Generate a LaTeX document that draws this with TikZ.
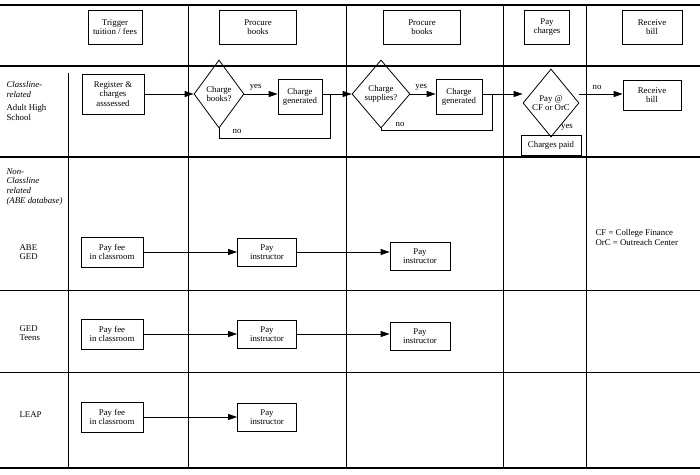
\documentclass[tikz,border=0pt]{standalone}
\usepackage{fontspec}
\setmainfont{Liberation Serif}
\usetikzlibrary{shapes.geometric,arrows.meta}
\begin{document}
\begin{tikzpicture}[x=1pt,y=-1pt,font=\fontsize{8.8}{9.6}\selectfont,
  box/.style={draw,align=center,inner sep=2pt,line width=0.8pt},
  dia/.style={draw,diamond,aspect=0.75,align=center,inner sep=-3pt,line width=0.8pt},
  flow/.style={line width=0.8pt,-{Triangle[length=9pt,width=6pt]}},
  grid/.style={line width=0.6pt}]
\useasboundingbox (0,0) rectangle (700,474);

%Lanes
\draw [line width=1.6pt] (0,5) -- (700,5);
\draw [line width=1.6pt] (0,66) -- (700,66);
\draw [line width=1.6pt] (0,157) -- (700,157);
\draw [grid] (0,290) -- (700,290);
\draw [grid] (0,372) -- (700,372);
\draw [line width=1.2pt] (0,468) -- (700,468);
\draw [grid] (68,73) -- (68,468);
\foreach \x in {188,346,503,586}
  \draw [grid] (\x,5) -- (\x,468);

%Header boxes
\node [box,minimum width=54pt,minimum height=34pt] (trig) at (115,27) {Trigger\\tuition / fees};
\node [box,minimum width=77pt,minimum height=34pt] (proc1) at (258,27) {Procure\\books};
\node [box,minimum width=77pt,minimum height=34pt] (proc2) at (422,27) {Procure\\books};
\node [box,minimum width=45pt,minimum height=34pt] (paych) at (547,27) {Pay\\charges};
\node [box,minimum width=60pt,minimum height=34pt] (recv) at (652,27) {Receive\\bill};

%Row labels
\node [anchor=north west,align=left,font=\fontsize{8.8}{9.6}\selectfont\itshape] (cls) at (3,78) {Classline-\\related};
\node [anchor=north west,align=left] (ahs) at (3,101) {Adult High\\School};
\node [anchor=north west,align=left,font=\fontsize{8.8}{9.6}\selectfont\itshape] (ncls) at (3,165) {Non-\\Classline\\related\\(ABE database)};
\node [anchor=north west,align=left] (abe) at (16,241) {ABE\\GED};
\node [anchor=north west,align=left] (gedt) at (16,322) {GED\\Teens};
\node [anchor=north west] (leap) at (16,408) {LEAP};
\node [anchor=north west,align=left] (note) at (592,226) {CF = College Finance\\OrC = Outreach Center};

%Classline row
\node [box,minimum width=62pt,minimum height=40pt] (reg) at (113,94) {Register \&\\charges\\asssessed};
\node [dia,minimum width=50pt,minimum height=68pt] (cb) at (219,94) {Charge\\books?};
\node [box,minimum width=44pt,minimum height=35pt] (cg1) at (300,97) {Charge\\generated};
\node [dia,minimum width=58pt,minimum height=68pt] (cs) at (381,94) {Charge\\supplies?};
\node [box,minimum width=46pt,minimum height=35pt] (cg2) at (459,97) {Charge\\generated};
\node [dia,minimum width=56pt,minimum height=68pt] (pay) at (551,103) {Pay @\\CF or OrC};
\node [box,minimum width=60pt,minimum height=20pt] (paid) at (551,145) {Charges paid};
\node [box,minimum width=58pt,minimum height=30pt] (rb) at (652,95) {Receive\\bill};

\draw [flow] (reg) -- (cb.west |- reg);
\draw [flow] (cb) -- node [above right,pos=0.05] {yes} (cg1.west |- cb);
\draw [flow] (cg1.east |- cb) -- (cs.west);
\draw [line width=0.8pt] (cb.south) |- (330,138) -- (330,94);
\node (no1) at (237,131) {no};
\draw [flow] (cs) -- node [above right,pos=0.05] {yes} (cg2.west |- cs);
\draw [line width=0.8pt] (cs.south) |- (492,130) -- (492,94);
\node (no2) at (400,124) {no};
\draw [flow] (cg2.east |- cs) -- (pay.west |- cs);
\draw [flow] (pay.east |- cs) -- (rb.west |- cs);
\node (no3) at (597,87) {no};
\draw [line width=0.8pt] (pay.south) -- (paid.north);
\node (yes3) at (567,127) {yes};

%Non-classline rows
\foreach \n/\y in {a/252,b/334,c/417}{
  \node [box,minimum width=62pt,minimum height=30pt] (fee\n) at (112,\y) {Pay fee\\in classroom};
  \node [box,minimum width=59pt,minimum height=28pt] (ia\n) at (267,\y) {Pay\\instructor};
  \draw [flow] (fee\n) -- (ia\n);
}
\foreach \n/\y in {a/256,b/336}{
  \node [box,minimum width=60pt,minimum height=28pt] (ib\n) at (420,\y) {Pay\\instructor};
  \draw [flow] (ia\n.east) -- (ib\n.west |- ia\n.east);
}
\end{tikzpicture}
\end{document}
